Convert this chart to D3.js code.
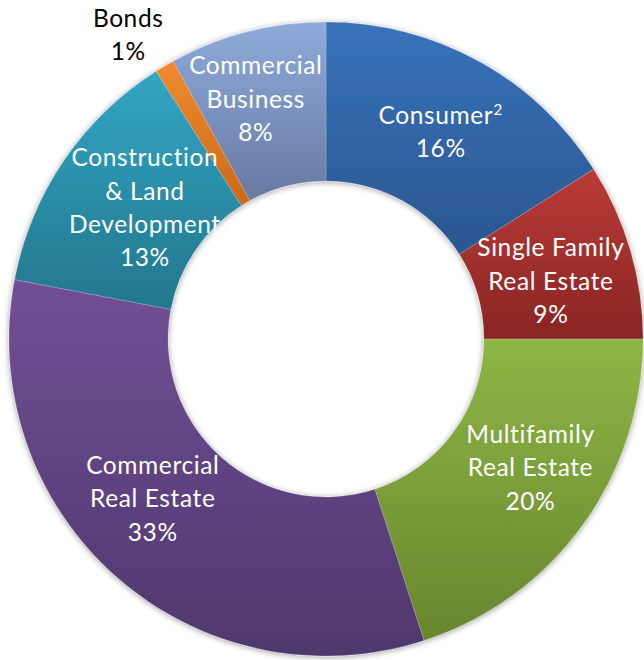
<!DOCTYPE html>
<html>
<head>
<meta charset="utf-8">
<script src="https://cdn.jsdelivr.net/npm/d3@7"></script>
<style>
  html, body { margin: 0; padding: 0; background: #fff; }
  svg { display: block; }
  text { font-family: Lato, "Noto Sans", sans-serif; font-variant-ligatures: none; }
</style>
</head>
<body>
<div id="chart"></div>
<script>
// Loan portfolio mix, percent of total
const categories = [
  "Consumer", "Single Family Real Estate", "Multifamily Real Estate",
  "Commercial Real Estate", "Construction & Land Development", "Bonds",
  "Commercial Business"
];
const values = [16, 9, 20, 33, 13, 1, 8];
// How each category name wraps inside its label
const nameLines = [
  ["Consumer"],
  ["Single Family", "Real Estate"],
  ["Multifamily", "Real Estate"],
  ["Commercial", "Real Estate"],
  ["Construction", "& Land", "Development"],
  ["Bonds"],
  ["Commercial", "Business"]
];
const footnotes = ["2", "", "", "", "", "", ""];

// Slice fills: top and bottom stops of each vertical gradient
const fillTop    = ["#3873b9", "#bb3b38", "#8db645", "#714f97", "#32a6c4", "#f08b2e", "#8eabdb"];
const fillBottom = ["#2a5690", "#882523", "#68862e", "#4f386c", "#23768d", "#c9691c", "#6879a2"];

// Layout
const width = 644, height = 660;
const cx = 326, cy = 339;
const outerR = 317, innerR = 158;
const fontSize = 24.5, letterSpacing = 0.6, lineH = 33.4, capH = 17.5;
// Label placement: inside labels start at the slice centroid, then shift a little
const labelShift = [[0, 1], [-3.5, 8], [12, -11], [-16.5, -18.5], [15, 2], [-20, -3], [-11.5, -10]];
const outsideLabel = [false, false, false, false, false, true, false];
const outsideR = 350;

const svg = d3.select("#chart").append("svg")
  .attr("width", width).attr("height", height);

const defs = svg.append("defs");
fillTop.forEach((c, i) => {
  const g = defs.append("linearGradient")
    .attr("id", "grad" + i)
    .attr("x1", 0).attr("y1", 0).attr("x2", 0).attr("y2", 1);
  g.append("stop").attr("offset", "0%").attr("stop-color", c);
  g.append("stop").attr("offset", "100%").attr("stop-color", fillBottom[i]);
});

// Soft shadow around the ring
const shadow = defs.append("filter").attr("id", "ringShadow")
  .attr("x", "-10%").attr("y", "-10%").attr("width", "120%").attr("height", "120%");
shadow.append("feGaussianBlur").attr("in", "SourceAlpha").attr("stdDeviation", 3).attr("result", "blur");
shadow.append("feOffset").attr("in", "blur").attr("dx", 0).attr("dy", 1).attr("result", "off");
shadow.append("feComponentTransfer").attr("in", "off").attr("result", "soft")
  .append("feFuncA").attr("type", "linear").attr("slope", 0.4);
const merge = shadow.append("feMerge");
merge.append("feMergeNode").attr("in", "soft");
merge.append("feMergeNode").attr("in", "SourceGraphic");

const pie = d3.pie().sort(null).value(d => d)
  .startAngle(0).endAngle(2 * Math.PI);
const arcs = pie(values);

const arc = d3.arc().innerRadius(innerR).outerRadius(outerR);

const g = svg.append("g").attr("transform", `translate(${cx},${cy})`);

g.append("g").attr("filter", "url(#ringShadow)")
  .selectAll("path")
  .data(arcs)
  .join("path")
  .attr("d", arc)
  .attr("fill", (d, i) => `url(#grad${i})`)
  .attr("stroke", "rgba(255,255,255,0.25)")
  .attr("stroke-width", 0.7);

// Labels
const labels = g.append("g");
arcs.forEach((d, i) => {
  let x, y;
  if (outsideLabel[i]) {
    const a = (d.startAngle + d.endAngle) / 2;
    x = Math.sin(a) * outsideR;
    y = -Math.cos(a) * outsideR;
  } else {
    [x, y] = arc.centroid(d);
  }
  x += labelShift[i][0];
  y += labelShift[i][1];

  const lines = nameLines[i].concat([values[i] + "%"]);
  const n = lines.length;
  const firstBase = y + capH / 2 - (n - 1) * lineH / 2;

  const t = labels.append("text")
    .attr("text-anchor", "middle")
    .attr("font-size", fontSize)
    .attr("letter-spacing", letterSpacing)
    .attr("fill", outsideLabel[i] ? "#000" : "#fff");

  lines.forEach((ln, k) => {
    const ts = t.append("tspan")
      .attr("x", x + letterSpacing / 2)
      .attr("y", firstBase + k * lineH)
      .text(ln);
    if (k === 0 && footnotes[i]) {
      ts.append("tspan")
        .attr("font-size", fontSize * 0.62)
        .attr("dy", -9)
        .text(footnotes[i]);
    }
  });
});
</script>
</body>
</html>
